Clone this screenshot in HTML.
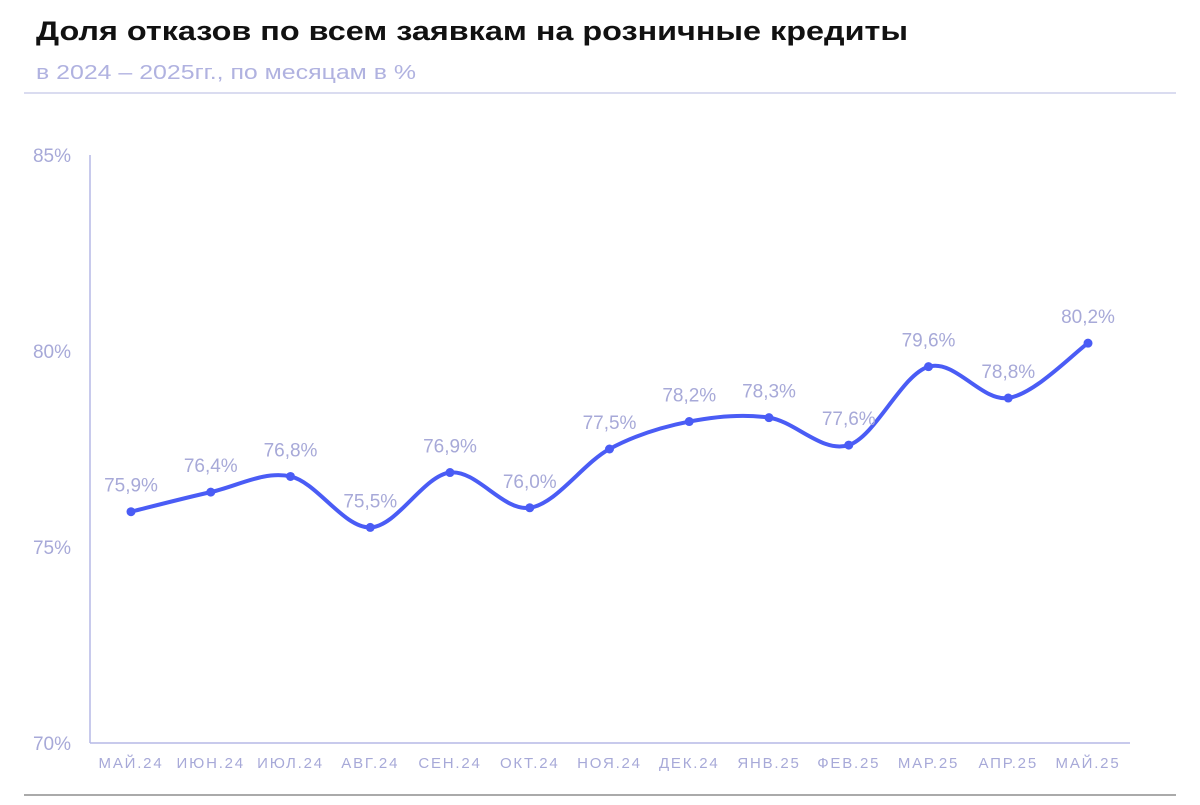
<!DOCTYPE html>
<html><head><meta charset="utf-8"><style>
body{margin:0;background:#fff;width:1200px;height:800px;overflow:hidden;font-family:"Liberation Sans","Noto Sans CJK SC",sans-serif}
</style></head><body>
<svg width="1200" height="800">
<text x="36" y="40" font-size="27" font-weight="bold" fill="#111" textLength="872" lengthAdjust="spacingAndGlyphs">Доля отказов по всем заявкам на розничные кредиты</text>
<text x="36" y="79" font-size="20" fill="#b0b2e0" textLength="380" lengthAdjust="spacingAndGlyphs">в 2024 – 2025гг., по месяцам в %</text>
<line x1="24" y1="93" x2="1176" y2="93" stroke="#b6b8e0" stroke-width="1"/>
<line x1="24" y1="795" x2="1176" y2="795" stroke="#555" stroke-width="1"/>
<line x1="90" y1="155" x2="90" y2="743" stroke="#b6b8e6" stroke-width="1.5"/>
<line x1="90" y1="743" x2="1130" y2="743" stroke="#b6b8e6" stroke-width="1.5"/>
<g id="yt"></g><g id="xt"></g><path id="ln" fill="none" stroke="#4a5cf5" stroke-width="4" stroke-linecap="round"/><g id="pts"></g>
</svg>
<script>
const categories=["МАЙ.24","ИЮН.24","ИЮЛ.24","АВГ.24","СЕН.24","ОКТ.24","НОЯ.24","ДЕК.24","ЯНВ.25","ФЕВ.25","МАР.25","АПР.25","МАЙ.25"];
const values=[75.9,76.4,76.8,75.5,76.9,76.0,77.5,78.2,78.3,77.6,79.6,78.8,80.2];
const yTicks=[70,75,80,85];
const NS="http://www.w3.org/2000/svg";
const X=i=>131+i*(1088-131)/(categories.length-1);
const Y=v=>743-(v-70)*(743-155)/15;
function mk(t,a,p){const e=document.createElementNS(NS,t);for(const k in a)e.setAttribute(k,a[k]);p.appendChild(e);return e;}
const yt=document.getElementById('yt'),xt=document.getElementById('xt'),pts=document.getElementById('pts');
yTicks.forEach(v=>{const t=mk('text',{x:71,y:Y(v)+7,'font-size':19,fill:'#a7a9d8','text-anchor':'end'},yt);t.textContent=v+'%';

});
categories.forEach((c,i)=>{const t=mk('text',{x:X(i),y:768,'font-size':15,fill:'#a7a9d8','text-anchor':'middle','letter-spacing':'1.8'},xt);t.textContent=c;

});
const P=values.map((v,i)=>[X(i),Y(v)]);
let d='M'+P[0][0]+','+P[0][1];
for(let i=0;i<P.length-1;i++){const p0=P[Math.max(i-1,0)],p1=P[i],p2=P[i+1],p3=P[Math.min(i+2,P.length-1)];
const c1=[p1[0]+(p2[0]-p0[0])/6,p1[1]+(p2[1]-p0[1])/6],c2=[p2[0]-(p3[0]-p1[0])/6,p2[1]-(p3[1]-p1[1])/6];
d+=' C'+c1+' '+c2+' '+p2;}
document.getElementById('ln').setAttribute('d',d);
values.forEach((v,i)=>{const c=mk('circle',{cx:X(i),cy:Y(v),r:4.5,fill:'#4a5cf5'},pts);


const t=mk('text',{x:X(i),y:Y(v)-20,'font-size':19,fill:'#a7a9d8','text-anchor':'middle'},pts);t.textContent=v.toFixed(1).replace('.',',')+'%';

});
</script>
</body></html>
